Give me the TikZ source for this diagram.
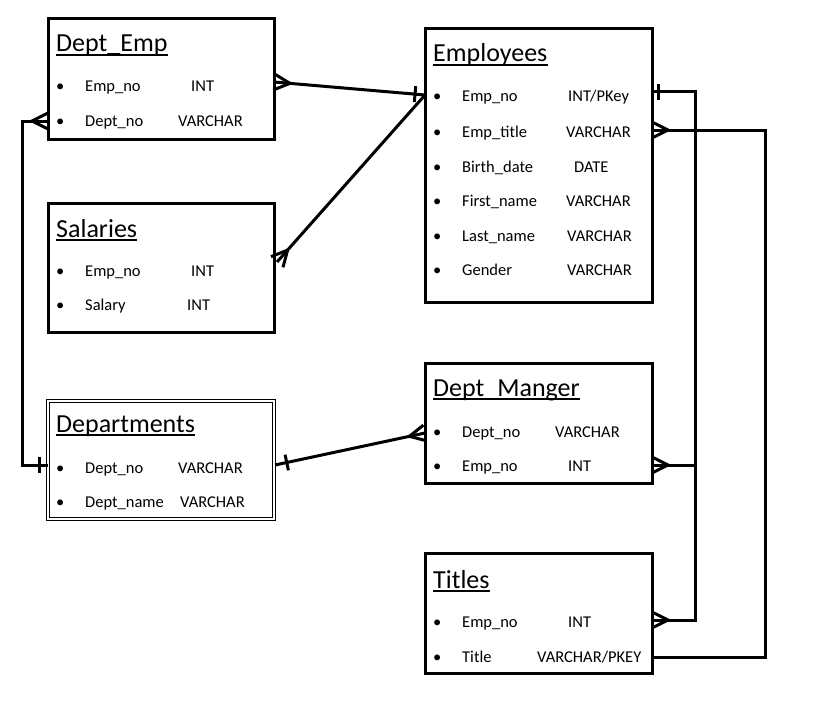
\documentclass[tikz,border=0pt]{standalone}
\usepackage{fontspec}
\setmainfont{Carlito}
\usetikzlibrary{calc}
\newcommand\crowft[2]{\draw[conn] ($(#1)!8pt!90:(#2)$) -- ($(#1)!16pt!(#2)$) -- ($(#1)!8pt!-90:(#2)$);}
\newcommand\onebar[3]{\coordinate (tmpbar) at ($(#1)!#3!(#2)$);
  \draw[conn] ($(tmpbar)!8pt!90:(#2)$) -- ($(tmpbar)!8pt!-90:(#2)$);}
\newcommand\fieldrow[7]{\node[fld] (#1b) at (#2,#3) {\textbullet};
  \node[fld] (#1n) at (#4,#3) {#5};
  \node[fld] (#1t) at (#6,#3) {#7};}
\newcommand\ttlnode[4]{\node[ttl] (#1) at (#2,#3) {#4};
  \draw[line width=2.6pt] ([yshift=-3pt]#1.base west) -- ([yshift=-3pt]#1.base east);}
\begin{document}
\begin{tikzpicture}[x=1pt,y=-1pt,
  tbl/.style={draw, line width=3pt, anchor=north west, inner sep=0, outer sep=0},
  dbl/.style={draw, line width=1.3pt, double, double distance=1.6pt, anchor=north west, inner sep=0, outer sep=0},
  ttl/.style={anchor=base west, inner sep=0, font=\fontsize{26}{28}\selectfont},
  fld/.style={anchor=base west, inner sep=0, font=\fontsize{16.5}{18}\selectfont},
  conn/.style={line width=3pt, line join=miter}]
\useasboundingbox[fill=white] (0,0) rectangle (833,717);

% tables
\node[tbl, minimum width=226pt, minimum height=120pt] (de) at (48,19) {};
\node[tbl, minimum width=226pt, minimum height=129pt] (sal) at (48,203) {};
\node[dbl, minimum width=226pt, minimum height=118pt] (dep) at (48,401) {};
\node[tbl, minimum width=227pt, minimum height=273pt] (emp) at (425,29) {};
\node[tbl, minimum width=227pt, minimum height=120pt] (dm) at (425,363) {};
\node[tbl, minimum width=227pt, minimum height=120pt] (tit) at (425,553) {};

% Dept_Emp
\ttlnode{deT}{56}{52}{Dept\_Emp}
\fieldrow{deA}{56}{92}{85}{Emp\_no}{191}{INT}
\fieldrow{deB}{56}{126}{85}{Dept\_no}{178}{VARCHAR}

% Salaries
\ttlnode{salT}{56}{237}{Salaries}
\fieldrow{salA}{56}{276}{85}{Emp\_no}{191}{INT}
\fieldrow{salB}{56}{310}{85}{Salary}{187}{INT}

% Departments
\ttlnode{depT}{56}{432}{Departments}
\fieldrow{depA}{56}{473}{85}{Dept\_no}{178}{VARCHAR}
\fieldrow{depB}{56}{507}{85}{Dept\_name}{180}{VARCHAR}

% Employees
\ttlnode{empT}{433}{62}{Employees}
\fieldrow{empA}{433}{102}{462}{Emp\_no}{568}{INT/PKey}
\fieldrow{empB}{433}{137}{462}{Emp\_title}{566}{VARCHAR}
\fieldrow{empC}{433}{172}{462}{Birth\_date}{574}{DATE}
\fieldrow{empD}{433}{206}{462}{First\_name}{566}{VARCHAR}
\fieldrow{empE}{433}{241}{462}{Last\_name}{567}{VARCHAR}
\fieldrow{empF}{433}{275}{462}{Gender}{567}{VARCHAR}

% Dept_Manger
\ttlnode{dmT}{433}{396}{Dept\_Manger}
\fieldrow{dmA}{433}{437}{462}{Dept\_no}{555}{VARCHAR}
\fieldrow{dmB}{433}{471}{462}{Emp\_no}{568}{INT}

% Titles
\ttlnode{titT}{433}{588}{Titles}
\fieldrow{titA}{433}{627}{462}{Emp\_no}{568}{INT}
\fieldrow{titB}{433}{662}{462}{Title}{537}{VARCHAR/PKEY}

% connector Dept_Emp -- Employees
\coordinate (p1) at ($(de.north east)+(0,63)$);
\coordinate (p2) at ($(emp.north west)+(0,66)$);
\draw[conn] (p1) -- (p2);
\crowft{p1}{p2}
\onebar{p2}{p1}{10pt}

% connector Salaries -- Employees
\coordinate (s1) at ($(sal.north east)+(3,59)$);
\draw[conn] (s1) -- (p2);
\crowft{s1}{p2}

% connector Dept_Emp -- Departments
\coordinate (a1) at ($(de.south west)+(0,-18)$);
\coordinate (a2) at ($(a1)+(-26,0)$);
\coordinate (b1) at ($(dep.north west)+(0,64)$);
\draw[conn] (a1) -- (a2) |- (b1);
\crowft{a1}{a2}
\onebar{b1}{a2 |- b1}{9pt}

% connector Departments -- Dept_Manger
\coordinate (c1) at ($(dep.north east)+(1,64)$);
\coordinate (d1) at ($(dm.north west)+(0,70)$);
\draw[conn] (c1) -- (d1);
\onebar{c1}{d1}{12pt}
\crowft{d1}{c1}

% connector Employees -- Titles / Dept_Manger
\coordinate (e1) at ($(emp.north east)+(0,63)$);
\coordinate (v1) at ($(e1)+(43,0)$);
\coordinate (f1) at ($(tit.north east)+(0,67)$);
\coordinate (g1) at ($(dm.north east)+(0,102)$);
\draw[conn] (e1) -- (v1) |- (f1);
\draw[conn] (g1) -- (g1 -| v1);
\onebar{e1}{v1}{6pt}
\crowft{f1}{f1 -| v1}
\crowft{g1}{g1 -| v1}

% connector Employees -- Titles (title)
\coordinate (h1) at ($(emp.north east)+(0,101)$);
\coordinate (w1) at ($(h1)+(113,0)$);
\coordinate (i1) at ($(tit.north east)+(0,104)$);
\draw[conn] (h1) -- (w1) |- (i1);
\crowft{h1}{w1}
\end{tikzpicture}
\end{document}
